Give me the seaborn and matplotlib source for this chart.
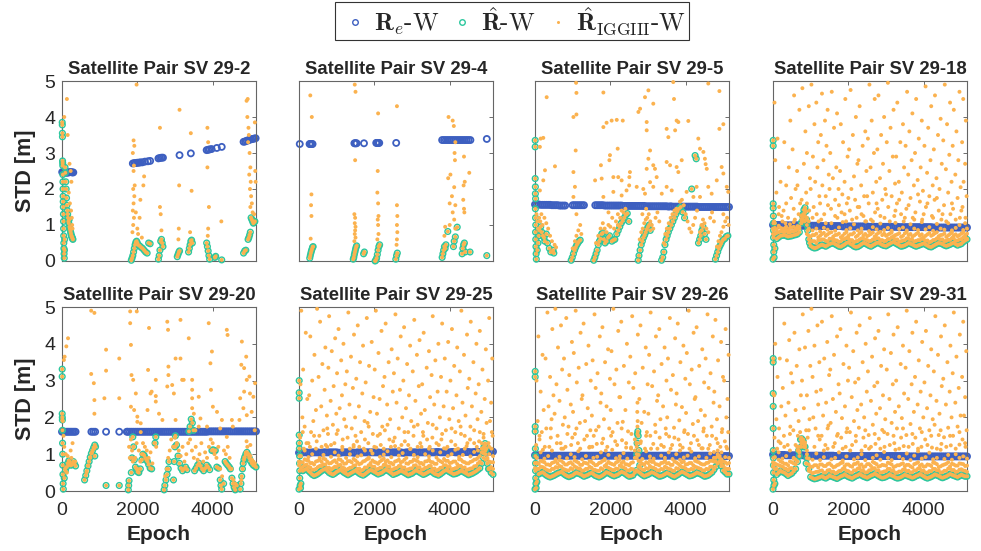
import matplotlib
matplotlib.use("Agg")
import matplotlib.pyplot as plt
from matplotlib.lines import Line2D
import seaborn as sns
import pandas as pd

# ---- shared epoch grids (dense panels are read every 100 epochs, plus the mid points) ----
EPOCHS_100 = [0, 100, 200, 300, 400, 500, 600, 700, 800, 900,
              1000, 1100, 1200, 1300, 1400, 1500, 1600, 1700, 1800, 1900,
              2000, 2100, 2200, 2300, 2400, 2500, 2600, 2700, 2800, 2900,
              3000, 3100, 3200, 3300, 3400, 3500, 3600, 3700, 3800, 3900,
              4000, 4100, 4200, 4300, 4400, 4500, 4600, 4700, 4800, 4900,
              5000, 5100]
EPOCHS_MID = [50, 150, 250, 350, 450, 550, 650, 750, 850, 950,
              1050, 1150, 1250, 1350, 1450, 1550, 1650, 1750, 1850, 1950,
              2050, 2150, 2250, 2350, 2450, 2550, 2650, 2750, 2850, 2950,
              3050, 3150, 3250, 3350, 3450, 3550, 3650, 3750, 3850, 3950,
              4050, 4150, 4250, 4350, 4450, 4550, 4650, 4750, 4850, 4950,
              5050, 5150]

TITLES = ["Satellite Pair SV 29-2", "Satellite Pair SV 29-4",
          "Satellite Pair SV 29-5", "Satellite Pair SV 29-18",
          "Satellite Pair SV 29-20", "Satellite Pair SV 29-25",
          "Satellite Pair SV 29-26", "Satellite Pair SV 29-31"]
LEGEND_LABELS = [r"$\mathbf{R}_e$-W", r"$\hat{\mathbf{R}}$-W",
                 r"$\hat{\mathbf{R}}_{\mathrm{IGGIII}}$-W"]
X_TICKS = [0, 2000, 4000]
Y_TICKS = [0, 1, 2, 3, 4, 5]

# ---- SV 29-2 ----
A_BLUE = [(5, 2.47), (30, 2.46), (60, 2.46), (90, 2.46), (120, 2.45), (150, 2.46),
          (180, 2.46), (210, 2.47), (240, 2.47), (270, 2.46), (300, 2.46),
          (1880, 2.71), (1920, 2.72), (1960, 2.72), (2000, 2.73), (2040, 2.73),
          (2080, 2.74), (2130, 2.74), (2200, 2.76), (2280, 2.77), (2340, 2.78),
          (2560, 2.85), (2600, 2.86), (2640, 2.87), (2680, 2.87), (3120, 2.94),
          (3420, 2.99), (3840, 3.08), (3880, 3.09), (3920, 3.10), (3970, 3.11),
          (4110, 3.14), (4240, 3.17), (4820, 3.31), (4860, 3.32), (4900, 3.34),
          (4940, 3.35), (4980, 3.37), (5020, 3.38), (5060, 3.39), (5100, 3.40),
          (5140, 3.41)]
A_TEAL = [(5, 3.85), (8, 3.78), (10, 3.55), (12, 3.45), (15, 2.78), (18, 2.72),
          (20, 2.65), (22, 2.4), (25, 2.2), (28, 2.0), (30, 1.8), (32, 1.65),
          (35, 1.5), (38, 1.3), (40, 1.1), (42, 0.9), (45, 0.7), (48, 0.5),
          (50, 0.35), (55, 0.2), (60, 0.08), (65, 0.3), (70, 0.6), (80, 2.6),
          (90, 2.45), (100, 2.2), (110, 2.0), (120, 1.75), (130, 1.55), (140, 1.4),
          (150, 1.3), (160, 1.2), (170, 1.1), (180, 1.05), (190, 1.15), (200, 0.95),
          (210, 0.9), (220, 0.85), (230, 0.8), (240, 0.75), (250, 0.7), (260, 0.68),
          (270, 0.65), (280, 0.62), (290, 0.6),
          (1840, 0.02), (1860, 0.08), (1880, 0.15), (1900, 0.25), (1920, 0.35),
          (1940, 0.45), (1960, 0.52), (1980, 0.55), (2000, 0.5), (2020, 0.45),
          (2060, 0.42), (2100, 0.38), (2140, 0.35), (2180, 0.3), (2220, 0.25),
          (2260, 0.22), (2300, 0.5), (2340, 0.48),
          (2560, 0.05), (2580, 0.15), (2600, 0.3), (2620, 0.55), (2640, 0.6),
          (2660, 0.5), (2680, 0.4),
          (3060, 0.12), (3080, 0.18), (3100, 0.24), (3120, 0.28),
          (3360, 0.25), (3380, 0.35), (3400, 0.45), (3420, 0.55), (3440, 0.58),
          (3460, 0.5),
          (3840, 0.5), (3860, 0.4), (3880, 0.28), (3900, 0.15), (3920, 0.05),
          (4060, 0.1), (4080, 0.13), (4240, 0.03),
          (4820, 0.22), (4850, 0.28), (4880, 0.3),
          (4940, 0.6), (4960, 0.65), (4980, 0.72), (5000, 0.8), (5020, 1.2),
          (5040, 1.15), (5060, 1.1), (5080, 1.05), (5100, 1.08), (5120, 1.1)]
A_ORANGE = [(60, 4.0), (130, 4.5), (150, 3.5), (200, 2.7), (230, 2.5), (250, 2.2),
            (180, 1.9), (210, 1.6), (240, 1.4), (260, 1.2), (270, 1.0), (280, 0.9),
            (1980, 4.9), (1900, 3.35), (1920, 3.2), (1880, 3.0), (1910, 2.65),
            (1900, 2.5), (1930, 2.1), (1890, 2.0), (1920, 1.8), (1900, 1.6),
            (1880, 1.4), (1910, 1.2), (1890, 1.0), (1870, 0.8), (1960, 1.35),
            (2000, 0.9), (2180, 2.35), (2160, 2.1), (2080, 1.7), (2060, 1.2),
            (2020, 0.75), (2120, 0.65),
            (2600, 3.7), (2600, 1.5), (2620, 1.3), (2640, 0.85),
            (3120, 4.2), (3110, 2.1), (3100, 0.9), (3090, 0.6),
            (3420, 3.55), (3440, 1.95), (3400, 0.8),
            (3860, 3.7), (3880, 3.3), (3860, 2.6), (3900, 1.5), (3880, 0.9), (3870, 0.7),
            (4230, 1.1),
            (4900, 4.45), (4930, 4.5), (4920, 4.0), (4950, 3.7), (4960, 3.5),
            (4940, 3.3), (4980, 3.0), (5000, 2.6), (4970, 2.4), (5010, 2.2),
            (4990, 2.0), (5020, 1.8), (5040, 1.6), (5000, 1.5), (5060, 1.35),
            (5120, 3.85), (5130, 2.5), (5140, 2.2), (5100, 1.3)]

# ---- SV 29-4 ----
B_BLUE = [(20, 3.25), (280, 3.25), (300, 3.25), (320, 3.25), (340, 3.25), (360, 3.25),
          (1470, 3.27), (1490, 3.27), (1510, 3.27), (1530, 3.27), (1725, 3.27),
          (2050, 3.28), (2070, 3.28), (2090, 3.28), (2110, 3.28), (2130, 3.28),
          (2580, 3.28), (3800, 3.36), (3850, 3.36), (3900, 3.36), (3950, 3.36),
          (4000, 3.36), (4050, 3.36), (4100, 3.36), (4150, 3.36), (4200, 3.36),
          (4250, 3.36), (4300, 3.36), (4350, 3.36), (4400, 3.36), (4450, 3.36),
          (4500, 3.36), (4550, 3.36), (4985, 3.39)]
B_TEAL = [(285, 0.08), (300, 0.15), (315, 0.22), (330, 0.28), (345, 0.33), (360, 0.38),
          (375, 0.4), (1440, 0.05), (1455, 0.1), (1470, 0.18), (1485, 0.25),
          (1500, 0.32), (1515, 0.38), (1530, 0.42), (1715, 0.2), (1735, 0.25),
          (2020, 0.0), (2040, 0.02), (2060, 0.08), (2080, 0.18), (2100, 0.3),
          (2120, 0.4), (2140, 0.45), (2570, 0.05), (2590, 0.15), (2610, 0.22),
          (3800, 0.1), (3820, 0.2), (3840, 0.3), (3860, 0.4), (3880, 0.35),
          (3900, 0.45), (3950, 0.82), (4100, 0.4), (4120, 0.55), (4150, 0.67),
          (4200, 0.94), (4330, 0.2), (4350, 0.35), (4370, 0.45), (4390, 0.5),
          (4410, 0.25), (4540, 0.25), (4985, 0.15)]
B_ORANGE = [(300, 4.6), (340, 4.0), (330, 1.85), (320, 1.55), (330, 1.25), (310, 0.62),
            (1480, 4.9), (1500, 4.7), (1490, 2.8), (1470, 1.3), (1490, 1.2),
            (1480, 1.05), (1500, 0.95), (1490, 0.85), (1480, 0.75), (1500, 0.65),
            (1470, 0.55), (2100, 4.1), (2090, 2.5), (2080, 1.9), (2100, 1.6),
            (2110, 1.25), (2090, 1.15), (2100, 1.0), (2110, 0.75), (2080, 0.6),
            (2600, 4.3), (2600, 1.55), (2610, 1.25), (2600, 1.0), (2610, 0.8),
            (2600, 0.6), (2590, 0.45), (3970, 4.0), (4080, 3.9), (4110, 3.75),
            (4150, 3.3), (4130, 3.0), (4140, 2.8), (3960, 2.3), (4020, 2.4),
            (4120, 2.05), (4060, 1.8), (4000, 1.6), (4150, 1.55), (4080, 1.35),
            (4120, 1.15), (4000, 1.0), (4150, 0.9), (3880, 0.95), (3860, 0.7),
            (4380, 2.9), (4400, 2.2), (4370, 2.1), (4390, 1.35), (4380, 1.45),
            (4360, 1.7), (4520, 2.45)]

# ---- SV 29-5 ----
C_BLUE_X = [0, 100, 200, 300, 400, 500, 600, 700, 800,
            1000, 1100, 1200, 1300,
            1600, 1700, 1800, 1900, 2000, 2100, 2200, 2300, 2400, 2500,
            2600, 2700, 2800, 2900, 3000, 3100, 3200, 3300, 3400, 3500,
            3600, 3700, 3800, 3900, 4000, 4100, 4200, 4300, 4400, 4500,
            4600, 4700, 4800, 4900, 5000, 5100]
C_BLUE_Y = [1.57, 1.57, 1.56, 1.56, 1.56, 1.55, 1.55, 1.54, 1.54,
            1.55, 1.55, 1.55, 1.55,
            1.55, 1.55, 1.55, 1.54, 1.54, 1.54, 1.54, 1.54, 1.53, 1.53,
            1.53, 1.53, 1.53, 1.53, 1.52, 1.52, 1.52, 1.52, 1.52, 1.52,
            1.52, 1.51, 1.51, 1.51, 1.51, 1.51, 1.51, 1.51, 1.50, 1.50,
            1.50, 1.50, 1.50, 1.50, 1.50, 1.50]
C_BLUE2_X = [50, 150, 250, 350, 450, 550, 650, 750,
             1050, 1150, 1250,
             1650, 1750, 1850, 1950, 2050, 2150, 2250, 2350, 2450, 2550,
             2650, 2750, 2850, 2950, 3050, 3150, 3250, 3350, 3450, 3550,
             3650, 3750, 3850, 3950, 4050, 4150, 4250, 4350, 4450, 4550,
             4650, 4750, 4850, 4950, 5050, 5150]
C_BLUE2_Y = [1.57, 1.56, 1.56, 1.56, 1.55, 1.55, 1.54, 1.54,
             1.55, 1.55, 1.55,
             1.55, 1.55, 1.54, 1.54, 1.54, 1.54, 1.54, 1.53, 1.53, 1.53,
             1.53, 1.53, 1.53, 1.52, 1.52, 1.52, 1.52, 1.52, 1.52, 1.51,
             1.51, 1.51, 1.51, 1.51, 1.51, 1.51, 1.51, 1.50, 1.50, 1.50,
             1.50, 1.50, 1.50, 1.50, 1.50, 1.50]
C_TEAL = [(5, 3.35), (5, 3.17), (5, 2.29), (10, 2.06), (10, 1.87), (15, 1.73),
          (10, 1.45), (15, 1.2), (20, 1.0), (15, 0.8), (20, 0.6), (25, 0.4),
          (30, 0.2), (35, 0.05), (60, 0.3), (80, 0.5), (100, 0.7), (120, 0.85),
          (150, 0.95), (180, 0.8), (210, 0.7), (240, 0.65), (260, 0.55), (300, 0.75),
          (330, 0.5), (380, 0.35), (420, 0.25), (480, 0.3), (500, 0.22),
          (960, 0.02), (990, 0.1), (1020, 0.2), (1050, 0.3), (1080, 0.38),
          (1110, 0.45), (1140, 0.5), (1170, 0.55), (1200, 0.58),
          (1560, 0.02), (1590, 0.1), (1620, 0.2), (1650, 0.3), (1680, 0.45),
          (1710, 0.55), (1740, 0.62), (1770, 0.75), (1800, 0.78), (1830, 0.6),
          (1860, 0.5), (1900, 0.55), (1940, 0.65), (1980, 0.7),
          (2040, 0.55), (2080, 0.58), (2120, 0.6), (2170, 0.75), (2210, 0.85),
          (2250, 0.95), (2290, 1.05), (2330, 1.12), (2370, 1.2), (2410, 1.28),
          (2450, 1.32), (2490, 1.1),
          (2740, 0.02), (2760, 0.15), (2790, 0.3), (2820, 0.45), (2850, 0.55),
          (2880, 0.65), (2910, 0.72), (2940, 0.8), (2970, 0.88), (3000, 0.95),
          (3030, 1.0), (3060, 0.85),
          (3360, 0.02), (3390, 0.1), (3420, 0.25), (3450, 0.45), (3480, 0.6),
          (3510, 0.7), (3540, 0.8), (3580, 0.9), (3620, 1.0), (3660, 1.1),
          (3700, 1.2), (3740, 1.3), (3780, 1.38), (3820, 1.45), (3870, 1.5),
          (3920, 1.36), (3970, 1.2),
          (4160, 2.0), (4250, 2.93), (4280, 2.84),
          (4340, 0.5), (4370, 0.6), (4400, 0.7), (4430, 0.85), (4460, 0.95),
          (4500, 0.75), (4540, 0.6),
          (4790, 0.05), (4820, 0.15), (4850, 0.25), (4880, 0.35), (4910, 0.42),
          (4940, 0.48), (4970, 0.55), (5000, 0.6), (5040, 0.62), (5080, 0.68),
          (5120, 0.7)]
C_ORANGE = [(310, 4.55), (1090, 4.95), (1100, 4.67), (1020, 4.0), (1100, 4.07),
            (1080, 3.07), (1815, 4.68), (2035, 3.9), (2170, 3.92), (2330, 3.9),
            (1815, 3.72), (1900, 3.84), (2195, 3.12), (3010, 4.74), (2920, 4.55),
            (2790, 4.23), (2745, 4.14), (3140, 4.37), (2965, 3.86), (2965, 3.63),
            (3670, 4.97), (3690, 4.5), (3540, 3.44), (3495, 3.67), (3760, 3.9),
            (3720, 3.63), (3805, 3.86), (4070, 3.89), (4600, 4.93), (4895, 4.72),
            (4895, 3.67), (5000, 3.8), (220, 3.42), (150, 3.4), (130, 3.17),
            (3230, 2.33), (3055, 3.07), (3010, 2.84), (3140, 2.66), (3185, 2.56),
            (2965, 2.56), (1990, 2.94), (1975, 2.8), (2080, 2.33), (2210, 2.33),
            (2300, 2.24), (2520, 2.47), (2505, 2.33), (1750, 2.66), (1770, 2.29),
            (1595, 2.24), (3495, 2.75), (3585, 2.66), (3760, 2.61), (3805, 2.47),
            (3895, 2.8), (4335, 3.4), (4380, 3.12), (4470, 3.03), (4510, 2.84),
            (4560, 2.56), (4530, 2.69), (4955, 2.61), (5000, 2.43), (5090, 2.06),
            (5130, 1.92), (265, 2.52), (530, 2.63), (220, 2.24), (130, 1.96),
            (1020, 2.47), (1060, 2.06), (1020, 1.78), (2080, 1.92), (2430, 1.96),
            (2500, 2.1), (2700, 2.06), (2875, 2.0), (2920, 1.87), (3055, 2.19),
            (3140, 2.06), (3365, 1.87), (3495, 2.06), (3630, 1.96), (4025, 1.92),
            (4205, 1.78), (4290, 2.06), (4380, 1.78), (4600, 2.06), (4690, 1.87),
            (4825, 2.24), (1815, 1.78), (2300, 1.82),
            (40, 1.3), (60, 1.1), (80, 0.9), (110, 1.2), (140, 1.1), (170, 1.3),
            (200, 1.0), (250, 1.2), (300, 1.05), (350, 0.9), (400, 0.7), (450, 0.55),
            (520, 0.45), (560, 0.38), (1000, 0.35), (1060, 0.55), (1100, 0.7),
            (1150, 0.85), (1200, 1.0), (1230, 0.75), (1100, 1.3), (1620, 0.5),
            (1680, 0.7), (1740, 0.9), (1800, 1.05), (1850, 0.9), (1900, 0.8),
            (1950, 1.0), (2000, 0.95), (2050, 1.2), (2100, 0.9), (2150, 1.1),
            (2200, 1.3), (2260, 1.2), (2300, 1.4), (2350, 1.35), (2400, 1.45),
            (2200, 1.0), (1950, 1.35), (2780, 0.6), (2820, 0.8), (2860, 0.9),
            (2900, 1.05), (2940, 1.15), (2980, 1.2), (3020, 1.3), (3060, 1.1),
            (3100, 1.0), (3140, 0.9), (3200, 1.2), (3250, 1.35), (3300, 1.1),
            (2850, 1.3), (2950, 1.45), (3420, 0.5), (3460, 0.75), (3500, 0.9),
            (3550, 1.05), (3600, 1.2), (3650, 1.3), (3700, 1.4), (3750, 1.45),
            (3850, 1.65), (3900, 1.7), (3950, 1.55), (4000, 1.3), (4050, 1.1),
            (4100, 0.9), (4150, 0.8), (4200, 1.0), (4250, 1.2), (4300, 1.4),
            (4380, 0.8), (4420, 1.0), (4460, 1.15), (4500, 1.05), (4550, 0.9),
            (4600, 0.8), (4650, 1.2), (4700, 1.35), (4750, 1.1), (4830, 0.4),
            (4870, 0.55), (4910, 0.7), (4950, 0.8), (5000, 0.95), (5050, 1.1),
            (5100, 1.2), (5140, 1.0), (5000, 1.3)]

# ---- SV 29-18 ----
D_BLUE = [1.00, 1.00, 1.00, 0.99, 0.99, 0.99, 0.99, 0.99, 0.98, 0.98,
          0.98, 0.98, 0.98, 0.97, 0.97, 0.97, 0.97, 0.97, 0.97, 0.96,
          0.96, 0.96, 0.96, 0.96, 0.96, 0.96, 0.95, 0.95, 0.95, 0.95,
          0.95, 0.95, 0.95, 0.95, 0.94, 0.94, 0.94, 0.94, 0.94, 0.94,
          0.94, 0.94, 0.94, 0.93, 0.93, 0.93, 0.93, 0.93, 0.93, 0.93,
          0.93, 0.93]
D_BLUE_MID = [1.00, 1.00, 0.99, 0.99, 0.99, 0.99, 0.99, 0.98, 0.98, 0.98,
              0.98, 0.98, 0.97, 0.97, 0.97, 0.97, 0.97, 0.97, 0.96, 0.96,
              0.96, 0.96, 0.96, 0.96, 0.96, 0.95, 0.95, 0.95, 0.95, 0.95,
              0.95, 0.95, 0.95, 0.94, 0.94, 0.94, 0.94, 0.94, 0.94, 0.94,
              0.94, 0.94, 0.93, 0.93, 0.93, 0.93, 0.93, 0.93, 0.93, 0.93,
              0.93, 0.93]
D_TEAL = [0.05, 0.62, 0.70, 0.72, 0.68, 0.70, 0.73, 0.80, 1.30, 1.00,
          0.42, 0.36, 0.40, 0.45, 0.41, 0.47, 0.50, 0.44, 0.40, 0.46,
          0.52, 0.45, 0.39, 0.43, 0.50, 0.46, 0.41, 0.47, 0.51, 0.45,
          0.42, 0.48, 0.53, 0.47, 0.41, 0.44, 0.50, 0.46, 0.41, 0.45,
          0.49, 0.43, 0.39, 0.45, 0.50, 0.47, 0.42, 0.46, 0.51, 0.44,
          0.48, 0.57]
D_TEAL_MID = [0.35, 0.66, 0.71, 0.70, 0.69, 0.72, 0.75, 1.05, 1.48, 0.60,
              0.38, 0.37, 0.43, 0.43, 0.44, 0.49, 0.47, 0.41, 0.43, 0.50,
              0.48, 0.41, 0.40, 0.47, 0.49, 0.43, 0.44, 0.50, 0.48, 0.43,
              0.45, 0.51, 0.50, 0.44, 0.42, 0.47, 0.48, 0.43, 0.43, 0.47,
              0.46, 0.40, 0.42, 0.48, 0.49, 0.44, 0.44, 0.49, 0.47, 0.46,
              0.53, 0.60]
D_TEAL_EXTRA = [(5, 3.35), (5, 3.2), (5, 1.59), (5, 1.47), (10, 1.25), (10, 1.05),
                (15, 0.85), (15, 0.65), (20, 0.45), (20, 0.25), (30, 0.1),
                (770, 1.1), (790, 1.25), (820, 1.42), (870, 1.38), (890, 1.15),
                (920, 0.85), (970, 0.5)]
D_BAND_1 = [0.75, 0.80, 0.82, 0.85, 0.80, 0.83, 0.88, 1.05, 1.35, 0.70,
            0.55, 0.50, 0.58, 0.60, 0.55, 0.62, 0.58, 0.53, 0.60, 0.64,
            0.58, 0.52, 0.56, 0.63, 0.60, 0.55, 0.60, 0.64, 0.58, 0.55,
            0.61, 0.66, 0.60, 0.54, 0.57, 0.63, 0.59, 0.54, 0.58, 0.62,
            0.56, 0.52, 0.58, 0.63, 0.60, 0.55, 0.59, 0.64, 0.57, 0.60,
            0.66, 0.62]
D_BAND_2 = [0.90, 0.88, 0.92, 0.90, 0.86, 0.93, 0.90, 0.95, 1.15, 1.20,
            0.68, 0.72, 0.66, 0.75, 0.70, 0.78, 0.68, 0.73, 0.66, 0.76,
            0.70, 0.74, 0.67, 0.77, 0.71, 0.69, 0.75, 0.68, 0.78, 0.72,
            0.70, 0.76, 0.69, 0.74, 0.67, 0.77, 0.72, 0.68, 0.75, 0.70,
            0.66, 0.74, 0.70, 0.77, 0.69, 0.73, 0.67, 0.75, 0.71, 0.69,
            0.76, 0.72]
D_BAND_3 = [1.05, 0.98, 1.10, 0.95, 1.02, 1.08, 0.97, 1.25, 1.45, 1.10,
            0.85, 0.90, 0.82, 0.92, 0.87, 1.05, 0.84, 0.93, 1.08, 0.86,
            0.91, 1.02, 0.85, 0.90, 1.10, 0.83, 0.94, 0.88, 1.04, 0.86,
            0.92, 0.84, 1.06, 0.89, 0.93, 0.85, 1.02, 0.90, 0.86, 1.08,
            0.88, 0.94, 0.84, 1.03, 0.90, 0.87, 1.05, 0.85, 0.92, 1.00,
            0.86, 0.90]
D_BAND_4 = [0.75, 0.78, 0.82, 0.80, 0.79, 0.82, 0.84, 0.90, 1.22, 0.75,
            0.56, 0.55, 0.58, 0.60, 0.56, 0.62, 0.60, 0.57, 0.55, 0.61,
            0.63, 0.58, 0.55, 0.60, 0.62, 0.58, 0.56, 0.60, 0.63, 0.58,
            0.56, 0.61, 0.64, 0.60, 0.55, 0.58, 0.62, 0.59, 0.56, 0.58,
            0.61, 0.57, 0.54, 0.59, 0.62, 0.60, 0.56, 0.59, 0.63, 0.57,
            0.61, 0.66]
D_BAND_5 = [0.92, 0.95, 0.90, 0.94, 0.92, 0.95, 0.93, 1.15, 1.25, 0.90,
            0.72, 0.76, 0.70, 0.78, 0.74, 0.80, 0.72, 0.76, 0.70, 0.80,
            0.74, 0.78, 0.71, 0.80, 0.75, 0.72, 0.79, 0.74, 0.81, 0.76,
            0.73, 0.79, 0.72, 0.77, 0.70, 0.80, 0.75, 0.71, 0.78, 0.74,
            0.70, 0.78, 0.73, 0.80, 0.72, 0.76, 0.71, 0.79, 0.74, 0.72,
            0.80, 0.76]
D_SCATTER = [(40, 4.4), (120, 3.4), (60, 2.8), (200, 2.2), (90, 1.9), (160, 1.5), (230, 1.25), (30, 1.1),
             (300, 3.3), (420, 2.6), (350, 2.1), (480, 1.75), (280, 1.4), (400, 1.2), (460, 3.9), (330, 1.05),
             (560, 4.6), (700, 4.2), (520, 3.1), (640, 2.5), (600, 2.0), (720, 1.6), (680, 1.3), (580, 1.15),
             (780, 4.8), (950, 4.3), (860, 3.6), (900, 3.0), (820, 2.7), (980, 2.3), (880, 1.9), (760, 1.7), (960, 1.4), (840, 1.1),
             (1020, 4.9), (1150, 4.4), (1100, 3.8), (1200, 3.3), (1060, 2.9), (1180, 2.6), (1120, 2.2), (1000, 2.0), (1230, 1.8), (1080, 1.5), (1160, 1.3), (1210, 1.1),
             (1300, 4.65), (1450, 4.2), (1380, 3.9), (1270, 3.5), (1420, 3.2), (1340, 2.8), (1480, 2.4), (1310, 2.1), (1400, 1.8), (1460, 1.55), (1360, 1.3), (1280, 1.15),
             (1560, 4.7), (1700, 4.1), (1620, 3.7), (1520, 3.0), (1680, 2.6), (1590, 2.3), (1740, 2.0), (1650, 1.7), (1540, 1.45), (1710, 1.2),
             (1800, 3.8), (1920, 4.5), (1860, 3.3), (1980, 2.9), (1780, 2.5), (1900, 2.2), (1840, 1.85), (1960, 1.6), (1820, 1.35), (1940, 1.1),
             (2060, 4.75), (2200, 4.0), (2120, 3.5), (2020, 3.1), (2240, 2.7), (2150, 2.35), (2080, 2.0), (2180, 1.7), (2040, 1.4), (2220, 1.2),
             (2300, 4.3), (2450, 3.6), (2380, 3.2), (2270, 2.8), (2480, 2.5), (2340, 2.1), (2420, 1.8), (2290, 1.5), (2400, 1.25), (2470, 1.1),
             (2560, 4.9), (2700, 4.5), (2620, 3.9), (2520, 3.4), (2680, 3.0), (2590, 2.6), (2740, 2.2), (2650, 1.9), (2540, 1.6), (2710, 1.35), (2600, 1.15),
             (2800, 4.6), (2950, 4.0), (2870, 3.5), (2770, 3.1), (2920, 2.7), (2840, 2.3), (2980, 2.0), (2900, 1.7), (2780, 1.45), (2960, 1.2),
             (3050, 4.95), (3200, 4.2), (3120, 3.7), (3020, 3.3), (3180, 2.9), (3090, 2.5), (3240, 2.15), (3150, 1.8), (3060, 1.5), (3220, 1.25),
             (3300, 4.4), (3450, 3.8), (3380, 3.3), (3270, 2.9), (3480, 2.6), (3340, 2.2), (3420, 1.9), (3290, 1.6), (3400, 1.3), (3470, 1.1),
             (3560, 4.7), (3700, 4.1), (3620, 3.6), (3520, 3.2), (3680, 2.8), (3590, 2.4), (3740, 2.1), (3650, 1.75), (3540, 1.45), (3710, 1.2),
             (3800, 4.5), (3950, 3.9), (3870, 3.4), (3770, 3.0), (3920, 2.6), (3840, 2.25), (3980, 1.95), (3900, 1.65), (3780, 1.35), (3960, 1.15),
             (4050, 4.85), (4200, 4.3), (4120, 3.7), (4020, 3.2), (4180, 2.8), (4090, 2.45), (4240, 2.1), (4150, 1.8), (4060, 1.5), (4220, 1.25),
             (4300, 4.6), (4450, 3.95), (4380, 3.5), (4270, 3.1), (4480, 2.7), (4340, 2.3), (4420, 2.0), (4290, 1.7), (4400, 1.4), (4470, 1.15),
             (4560, 4.9), (4700, 4.4), (4620, 3.8), (4520, 3.35), (4680, 2.95), (4590, 2.55), (4740, 2.2), (4650, 1.9), (4540, 1.55), (4710, 1.3),
             (4800, 4.2), (4950, 4.7), (4870, 3.6), (4770, 3.2), (4920, 2.8), (4840, 2.4), (4980, 2.05), (4900, 1.75), (4780, 1.45), (4960, 1.2),
             (5050, 4.5), (5120, 3.9), (5020, 3.3), (5100, 2.7), (5060, 2.2), (5140, 1.8), (5030, 1.5), (5110, 1.2)]
D_SCATTER_LOW = [(150, 1.3), (350, 1.6), (550, 1.45), (650, 2.1), (900, 1.6), (1050, 1.2),
                 (1250, 1.6), (1400, 1.05), (1500, 2.0), (1650, 1.25), (1750, 1.55), (1900, 1.3),
                 (2000, 1.75), (2100, 1.15), (2250, 1.5), (2350, 1.3), (2500, 1.8), (2650, 1.1),
                 (2750, 1.6), (2850, 1.25), (3000, 1.85), (3100, 1.1), (3250, 1.4), (3350, 1.7),
                 (3500, 1.2), (3600, 1.55), (3750, 1.15), (3850, 1.85), (4000, 1.3), (4100, 1.6),
                 (4250, 1.2), (4350, 1.75), (4500, 1.3), (4600, 1.1), (4750, 1.6), (4850, 1.15),
                 (5000, 1.4), (5100, 1.05)]

# ---- SV 29-20 ----
E_BLUE_X = [0, 40, 80, 120, 160, 200, 240, 280, 320, 360, 780, 830, 880, 1170, 1520,
            1720, 1800, 1900, 2000, 2100, 2200, 2300, 2400, 2500, 2600, 2700, 2800,
            2900, 3000, 3100, 3200, 3300, 3400, 3500, 3600, 3700, 3800, 3900, 4000,
            4100, 4200, 4300, 4400, 4500, 4600, 4700, 4800, 4900, 5000, 5100, 5150]
E_BLUE_Y = [1.61, 1.61, 1.61, 1.61, 1.61, 1.61, 1.61, 1.61, 1.61, 1.61, 1.61, 1.61, 1.61, 1.61, 1.61,
            1.61, 1.61, 1.61, 1.61, 1.61, 1.61, 1.61, 1.61, 1.61, 1.61, 1.61, 1.61,
            1.61, 1.61, 1.61, 1.61, 1.61, 1.61, 1.61, 1.61, 1.61, 1.61, 1.62, 1.62,
            1.62, 1.62, 1.62, 1.62, 1.62, 1.62, 1.62, 1.62, 1.62, 1.62, 1.62, 1.62]
E_BLUE2_X = [1750, 1850, 1950, 2050, 2150, 2250, 2350, 2450, 2550, 2650,
             2750, 2850, 2950, 3050, 3150, 3250, 3350, 3450, 3550, 3650,
             3750, 3850, 3950, 4050, 4150, 4250, 4350, 4450, 4550, 4650,
             4750, 4850, 4950, 5050]
E_BLUE2_Y = [1.61, 1.61, 1.61, 1.61, 1.61, 1.61, 1.61, 1.61, 1.61, 1.61,
             1.61, 1.61, 1.61, 1.61, 1.61, 1.61, 1.61, 1.61, 1.61, 1.61,
             1.61, 1.61, 1.62, 1.62, 1.62, 1.62, 1.62, 1.62, 1.62, 1.62,
             1.62, 1.62, 1.62, 1.62]
E_TEAL = [(5, 3.31), (5, 3.11), (5, 2.1), (8, 2.0), (10, 1.93), (12, 1.65), (15, 1.3),
          (18, 1.0), (20, 0.7), (25, 0.45), (30, 0.2), (35, 0.05), (60, 0.35), (90, 0.55),
          (120, 0.65), (150, 0.75), (180, 0.82), (210, 0.78), (240, 0.7), (270, 0.72),
          (300, 0.8), (330, 0.74), (360, 0.68),
          (600, 0.3), (630, 0.42), (660, 0.55), (690, 0.68), (720, 0.8), (750, 0.92),
          (780, 1.02), (810, 1.1), (840, 1.18), (870, 1.25), (890, 1.2), (870, 0.95),
          (1170, 0.15), (1520, 0.15), (1760, 0.03), (1770, 0.15), (1780, 0.28),
          (1840, 0.5), (1860, 0.9), (1880, 1.47), (1900, 1.2), (1920, 0.85), (1950, 0.65),
          (1980, 0.6), (2010, 0.52), (2040, 0.5), (2080, 0.6), (2120, 0.85), (2150, 1.0),
          (2180, 0.97), (2210, 0.9), (2240, 0.85), (2270, 0.8), (2300, 0.72), (2340, 0.62),
          (2380, 0.6), (2470, 1.3), (2490, 1.47),
          (2710, 0.03), (2730, 0.15), (2760, 0.3), (2790, 0.45), (2820, 0.6), (2840, 0.8),
          (2960, 0.3), (2980, 0.8), (3000, 1.2), (3010, 1.5), (3040, 1.25), (3080, 0.95),
          (3120, 0.75), (3160, 0.62), (3200, 0.55), (3240, 0.6), (3280, 0.65), (3320, 0.58),
          (3370, 1.62), (3400, 1.75), (3430, 1.95), (3460, 1.85), (3490, 1.65),
          (3520, 0.55), (3560, 0.62), (3600, 0.7), (3640, 0.75), (3680, 0.68), (3720, 0.6),
          (3760, 0.55), (3800, 0.62), (3840, 0.7), (3880, 0.65), (3920, 0.58),
          (3980, 1.1), (4010, 1.12), (4040, 1.08), (4070, 1.1),
          (4110, 0.65), (4150, 0.62), (4200, 0.3), (4220, 0.15), (4240, 0.05), (4290, 0.2),
          (4330, 0.8), (4360, 0.75), (4400, 0.7), (4440, 0.65), (4470, 0.6),
          (4510, 0.35), (4540, 0.2), (4570, 0.1), (4600, 0.03), (4640, 0.15),
          (4730, 0.05), (4750, 0.2), (4770, 0.4), (4790, 0.6), (4810, 0.75), (4830, 0.85),
          (4850, 0.92), (4880, 1.0), (4910, 1.05), (4940, 0.98), (4970, 0.9), (5000, 0.82),
          (5040, 0.75), (5080, 0.7), (5120, 0.68), (5150, 0.65)]
E_ORANGE = [(775, 4.9), (860, 4.84), (160, 4.15), (70, 3.65), (115, 3.93), (50, 3.56),
            (775, 3.18), (845, 2.93), (860, 2.47), (860, 2.1), (1170, 3.84), (1170, 3.27),
            (1125, 2.52), (1520, 3.6), (1520, 2.52), (1810, 4.88), (1985, 4.88),
            (1810, 4.56), (1830, 3.97), (1845, 3.15), (1890, 3.02), (1830, 2.29),
            (1960, 2.65), (1915, 2.2), (2000, 2.02), (2000, 1.88), (2090, 1.84),
            (2310, 4.43), (2285, 3.29), (2380, 2.7), (2350, 2.65), (2490, 2.43),
            (2270, 2.2), (2490, 3.02), (2490, 2.58), (2795, 4.6), (2815, 4.38),
            (2825, 3.38), (2825, 3.15), (2795, 2.84), (2925, 2.88), (2970, 2.65),
            (3015, 1.93), (3145, 4.65), (3145, 3.6), (3015, 3.6), (3190, 3.02),
            (3230, 3.02), (3365, 4.15), (3455, 3.02), (3455, 2.75), (3455, 2.52),
            (3455, 2.25), (3500, 2.1), (3630, 2.56), (3675, 1.97), (3895, 4.56),
            (3980, 3.79), (3940, 3.47), (3955, 2.75), (4200, 1.7), (4375, 4.38),
            (4395, 4.24), (4510, 1.93), (4535, 1.75), (4775, 4.06), (4760, 3.43),
            (4835, 3.34), (4835, 2.7), (4890, 3.65), (4975, 3.11), (4905, 3.02),
            (4990, 2.65), (4730, 2.52), (5080, 2.56), (5125, 2.93), (4815, 2.25),
            (4905, 2.06), (5035, 2.15), (4710, 1.93), (5115, 1.65), (4375, 1.47),
            (4005, 2.29), (4115, 2.15), (4245, 1.93), (3540, 1.65), (3630, 1.75),
            (3850, 1.75), (2665, 1.93), (2575, 2.1), (2090, 1.6),
            (20, 1.9), (40, 1.5), (60, 1.2), (100, 1.0), (150, 0.95), (200, 0.8),
            (250, 0.9), (300, 0.75), (350, 0.8), (80, 0.6), (130, 0.5), (180, 0.7),
            (230, 1.1), (280, 1.3), (650, 0.5), (700, 0.7), (750, 0.9), (800, 1.05),
            (850, 1.15), (1780, 1.2), (1800, 0.9), (1830, 1.4), (1860, 1.1), (1880, 0.8),
            (1900, 1.2), (1940, 0.9), (1980, 1.3), (2000, 0.6), (2040, 1.1), (2080, 0.8),
            (2120, 1.0), (2150, 1.3), (2200, 1.2), (2250, 1.1), (2300, 0.9), (2350, 1.05),
            (2400, 0.75), (2450, 1.3), (2500, 1.2), (2740, 0.4), (2780, 0.6), (2820, 0.9),
            (2860, 1.1), (2900, 1.4), (2950, 1.2), (3000, 1.45), (3050, 1.3), (3100, 1.1),
            (3150, 0.95), (3200, 1.2), (3250, 0.8), (3300, 1.0), (3350, 1.3), (3400, 1.4),
            (3450, 1.1), (3500, 0.9), (3550, 1.2), (3600, 0.85), (3650, 1.0), (3700, 1.3),
            (3750, 0.8), (3800, 1.05), (3850, 0.9), (3900, 1.2), (3950, 1.4), (4000, 1.3),
            (4050, 1.0), (4100, 0.9), (4150, 1.2), (4200, 0.6), (4250, 0.4), (4300, 1.1),
            (4350, 1.0), (4400, 1.2), (4450, 0.9), (4500, 0.6), (4550, 0.3), (4600, 0.2),
            (4760, 0.3), (4800, 0.6), (4840, 0.9), (4880, 1.05), (4920, 1.2), (4960, 1.0),
            (5000, 0.95), (5040, 0.85), (5080, 0.8), (5120, 0.75), (4900, 1.35), (5000, 1.25)]

# ---- SV 29-25 ----
F_BLUE = [1.04, 1.05, 1.05, 1.04, 1.05, 1.05, 1.04, 1.05, 1.05, 1.05,
          1.05, 1.04, 1.05, 1.05, 1.05, 1.04, 1.05, 1.05, 1.05, 1.05,
          1.05, 1.05, 1.04, 1.05, 1.05, 1.05, 1.05, 1.05, 1.04, 1.05,
          1.05, 1.05, 1.05, 1.05, 1.05, 1.05, 1.05, 1.06, 1.05, 1.05,
          1.05, 1.06, 1.05, 1.05, 1.06, 1.06, 1.05, 1.06, 1.06, 1.07,
          1.07, 1.07]
F_BLUE_MID = [1.05, 1.05, 1.04, 1.05, 1.05, 1.04, 1.05, 1.05, 1.05, 1.05,
              1.04, 1.05, 1.05, 1.05, 1.04, 1.05, 1.05, 1.05, 1.05, 1.05,
              1.05, 1.04, 1.05, 1.05, 1.05, 1.05, 1.05, 1.04, 1.05, 1.05,
              1.05, 1.05, 1.05, 1.05, 1.05, 1.05, 1.06, 1.05, 1.05, 1.05,
              1.06, 1.05, 1.05, 1.06, 1.06, 1.05, 1.06, 1.06, 1.07, 1.07,
              1.07, 1.07]
F_TEAL = [0.05, 0.55, 0.60, 0.50, 0.42, 0.47, 0.55, 0.60, 0.50, 0.45,
          0.52, 0.58, 0.50, 0.44, 0.50, 0.56, 0.48, 0.43, 0.50, 0.57,
          0.52, 0.46, 0.50, 0.58, 0.53, 0.45, 0.49, 0.55, 0.50, 0.44,
          0.48, 0.56, 0.51, 0.45, 0.50, 0.55, 0.47, 0.43, 0.50, 0.57,
          0.52, 0.46, 0.49, 0.55, 0.50, 0.44, 0.48, 0.54, 0.62, 0.90,
          0.75, 0.50]
F_TEAL_MID = [0.20, 0.58, 0.55, 0.45, 0.44, 0.51, 0.58, 0.55, 0.47, 0.48,
              0.55, 0.54, 0.47, 0.47, 0.53, 0.52, 0.45, 0.46, 0.54, 0.55,
              0.49, 0.48, 0.54, 0.56, 0.49, 0.47, 0.52, 0.53, 0.47, 0.46,
              0.52, 0.54, 0.48, 0.47, 0.53, 0.51, 0.45, 0.46, 0.54, 0.55,
              0.49, 0.47, 0.52, 0.53, 0.47, 0.46, 0.51, 0.58, 0.75, 1.10,
              0.60, 0.45]
F_TEAL_EXTRA = [(5, 3.0), (5, 2.67), (5, 2.52), (5, 1.52), (10, 1.3), (10, 1.15),
                (15, 0.95), (15, 0.75), (20, 0.55), (20, 0.35), (30, 0.15), (40, 0.08),
                (4880, 1.05), (4910, 1.2), (4940, 1.29), (4970, 1.15), (5030, 0.6)]
F_BAND_1 = [0.62, 0.70, 0.66, 0.58, 0.60, 0.68, 0.72, 0.63, 0.58, 0.66,
            0.70, 0.64, 0.57, 0.63, 0.69, 0.60, 0.56, 0.64, 0.70, 0.66,
            0.59, 0.63, 0.71, 0.66, 0.58, 0.62, 0.68, 0.63, 0.57, 0.61,
            0.69, 0.64, 0.58, 0.63, 0.68, 0.60, 0.56, 0.63, 0.70, 0.65,
            0.59, 0.62, 0.68, 0.63, 0.57, 0.61, 0.67, 0.75, 1.05, 0.85,
            0.62, 0.60]
F_BAND_2 = [0.80, 0.78, 0.84, 0.76, 0.72, 0.82, 0.79, 0.86, 0.75, 0.80,
            0.77, 0.85, 0.74, 0.81, 0.78, 0.83, 0.73, 0.80, 0.86, 0.76,
            0.79, 0.74, 0.84, 0.80, 0.77, 0.72, 0.82, 0.78, 0.85, 0.74,
            0.80, 0.83, 0.76, 0.72, 0.81, 0.79, 0.74, 0.84, 0.78, 0.82,
            0.76, 0.80, 0.73, 0.85, 0.78, 0.75, 0.81, 0.86, 0.95, 1.15,
            0.90, 0.78]
F_BAND_3 = [0.95, 1.10, 0.92, 1.00, 1.15, 0.90, 0.98, 1.20, 0.93, 1.05,
            0.96, 1.12, 0.90, 1.00, 1.25, 0.94, 0.97, 1.10, 0.91, 1.02,
            1.18, 0.93, 0.99, 1.08, 0.92, 1.22, 0.96, 1.03, 0.90, 1.14,
            0.98, 0.92, 1.20, 1.00, 0.94, 1.10, 0.91, 1.05, 1.16, 0.95,
            1.00, 1.12, 0.93, 0.98, 1.22, 0.94, 1.06, 1.10, 1.30, 1.25,
            1.00, 0.95]
F_BAND_4 = [0.70, 0.66, 0.72, 0.64, 0.58, 0.65, 0.68, 0.72, 0.63, 0.62,
            0.65, 0.71, 0.62, 0.60, 0.64, 0.70, 0.61, 0.58, 0.64, 0.70,
            0.66, 0.60, 0.64, 0.71, 0.66, 0.59, 0.63, 0.68, 0.64, 0.59,
            0.62, 0.70, 0.65, 0.59, 0.64, 0.68, 0.61, 0.58, 0.64, 0.70,
            0.66, 0.60, 0.63, 0.68, 0.64, 0.59, 0.62, 0.68, 0.80, 1.02,
            0.88, 0.65]
F_BAND_5 = [0.78, 0.86, 0.82, 0.76, 0.80, 0.85, 0.88, 0.80, 0.76, 0.83,
            0.86, 0.80, 0.75, 0.81, 0.87, 0.78, 0.75, 0.82, 0.88, 0.83,
            0.77, 0.80, 0.88, 0.83, 0.76, 0.80, 0.85, 0.80, 0.75, 0.79,
            0.86, 0.81, 0.76, 0.80, 0.85, 0.78, 0.74, 0.81, 0.87, 0.82,
            0.77, 0.80, 0.86, 0.80, 0.75, 0.79, 0.85, 0.90, 1.15, 1.00,
            0.80, 0.78]
F_SCATTER = [(60, 4.9), (180, 4.3), (110, 3.3), (40, 2.9), (220, 2.5), (90, 2.0), (150, 1.75), (30, 1.45), (200, 1.3), (130, 1.15),
             (480, 4.95), (300, 4.2), (410, 3.7), (350, 3.0), (270, 2.6), (450, 2.2), (380, 1.9), (320, 1.6), (470, 1.35), (290, 1.2),
             (560, 4.6), (700, 3.9), (620, 3.45), (520, 3.1), (680, 2.75), (590, 2.3), (740, 2.05), (650, 1.65), (540, 1.5), (710, 1.25),
             (800, 4.75), (960, 4.15), (870, 3.8), (780, 3.35), (920, 2.85), (840, 2.45), (990, 2.1), (900, 1.8), (770, 1.55), (940, 1.3),
             (1050, 4.4), (1180, 4.0), (1120, 3.55), (1010, 3.2), (1230, 2.9), (1140, 2.6), (1080, 2.25), (1200, 1.95), (1030, 1.65), (1160, 1.4),
             (1310, 4.85), (1460, 4.25), (1380, 3.65), (1270, 3.25), (1430, 2.8), (1340, 2.35), (1490, 2.0), (1400, 1.7), (1290, 1.45), (1450, 1.2),
             (1560, 4.5), (1700, 3.95), (1620, 3.5), (1520, 3.05), (1680, 2.65), (1590, 2.3), (1740, 1.9), (1650, 1.6), (1540, 1.35), (1720, 1.15),
             (1800, 4.7), (1930, 4.05), (1860, 3.4), (1770, 2.95), (1980, 2.55), (1890, 2.15), (1820, 1.85), (1960, 1.55), (1840, 1.3), (1910, 1.1),
             (2040, 4.9), (2190, 4.35), (2110, 3.75), (2010, 3.3), (2230, 2.85), (2140, 2.5), (2070, 2.1), (2210, 1.75), (2090, 1.5), (2170, 1.25),
             (2300, 4.55), (2460, 3.85), (2380, 3.5), (2270, 3.1), (2490, 2.7), (2340, 2.35), (2420, 1.95), (2280, 1.65), (2400, 1.4), (2440, 1.2),
             (2560, 4.8), (2700, 4.2), (2620, 3.6), (2520, 3.2), (2680, 2.75), (2590, 2.4), (2740, 2.0), (2650, 1.7), (2540, 1.45), (2720, 1.25),
             (2790, 4.45), (2950, 3.95), (2870, 3.45), (2770, 3.0), (2920, 2.6), (2840, 2.25), (2980, 1.9), (2900, 1.6), (2810, 1.35), (2960, 1.15),
             (3060, 4.65), (3200, 4.1), (3130, 3.7), (3020, 3.25), (3180, 2.85), (3090, 2.45), (3240, 2.1), (3150, 1.8), (3040, 1.5), (3220, 1.3),
             (3310, 4.3), (3450, 3.8), (3390, 3.35), (3270, 2.9), (3480, 2.55), (3340, 2.2), (3420, 1.85), (3290, 1.6), (3400, 1.4), (3470, 1.2),
             (3550, 4.75), (3700, 4.0), (3620, 3.55), (3520, 3.15), (3680, 2.7), (3590, 2.35), (3740, 2.0), (3650, 1.7), (3540, 1.45), (3710, 1.25),
             (3800, 4.55), (3960, 4.05), (3870, 3.6), (3770, 3.1), (3920, 2.7), (3840, 2.3), (3990, 1.95), (3900, 1.65), (3780, 1.4), (3940, 1.2),
             (4060, 4.4), (4200, 3.9), (4120, 3.4), (4020, 3.0), (4180, 2.6), (4090, 2.25), (4240, 1.9), (4150, 1.6), (4040, 1.35), (4220, 1.15),
             (4310, 4.9), (4460, 4.25), (4380, 3.7), (4270, 3.25), (4480, 2.8), (4340, 2.4), (4420, 2.05), (4290, 1.75), (4400, 1.5), (4470, 1.3),
             (4560, 4.6), (4710, 4.0), (4630, 3.5), (4520, 3.05), (4690, 2.65), (4590, 2.3), (4740, 1.95), (4650, 1.65), (4540, 1.4), (4720, 1.2),
             (4800, 4.35), (4960, 3.85), (4870, 3.3), (4770, 2.9), (4930, 2.5), (4840, 2.15), (4980, 1.85), (4900, 1.55), (4780, 1.35), (4950, 1.15),
             (5050, 4.7), (5130, 3.6), (5020, 3.0), (5100, 2.4), (5070, 1.9), (5140, 1.5), (5030, 1.3), (5110, 1.15)]
F_SCATTER_LOW = [(100, 1.6), (250, 1.3), (400, 1.5), (600, 1.2), (750, 1.7), (850, 1.25),
                 (1000, 1.55), (1150, 1.2), (1250, 1.75), (1350, 1.15), (1500, 1.5), (1600, 1.2),
                 (1750, 1.4), (1850, 1.75), (2000, 1.2), (2150, 1.55), (2250, 1.15), (2350, 1.8),
                 (2500, 1.35), (2650, 1.15), (2800, 1.6), (2900, 1.25), (3050, 1.75), (3150, 1.2),
                 (3300, 1.5), (3450, 1.15), (3550, 1.8), (3650, 1.3), (3800, 1.55), (3900, 1.15),
                 (4050, 1.7), (4150, 1.25), (4300, 1.55), (4400, 1.15), (4550, 1.75), (4650, 1.3),
                 (4800, 1.6), (4900, 1.45), (5050, 1.2), (5120, 1.6)]

# ---- SV 29-26 ----
G_BLUE = [0.97, 0.97, 0.96, 0.96, 0.96, 0.96, 0.96, 0.96, 0.96, 0.96,
          0.96, 0.96, 0.96, 0.96, 0.96, 0.96, 0.96, 0.96, 0.96, 0.96,
          0.96, 0.96, 0.96, 0.96, 0.96, 0.96, 0.96, 0.96, 0.96, 0.96,
          0.96, 0.96, 0.96, 0.96, 0.96, 0.96, 0.96, 0.96, 0.96, 0.96,
          0.96, 0.96, 0.96, 0.96, 0.96, 0.96, 0.96, 0.95, 0.95, 0.95,
          0.95, 0.95]
G_BLUE_MID = [0.97, 0.96, 0.96, 0.96, 0.96, 0.96, 0.96, 0.96, 0.96, 0.96,
              0.96, 0.96, 0.96, 0.96, 0.96, 0.96, 0.96, 0.96, 0.96, 0.96,
              0.96, 0.96, 0.96, 0.96, 0.96, 0.96, 0.96, 0.96, 0.96, 0.96,
              0.96, 0.96, 0.96, 0.96, 0.96, 0.96, 0.96, 0.96, 0.96, 0.96,
              0.96, 0.96, 0.96, 0.96, 0.96, 0.96, 0.95, 0.95, 0.95, 0.95,
              0.95, 0.95]
G_TEAL = [0.05, 0.46, 0.51, 0.43, 0.38, 0.42, 0.48, 0.52, 0.44, 0.39,
          0.43, 0.50, 0.46, 0.40, 0.44, 0.49, 0.42, 0.38, 0.43, 0.51,
          0.46, 0.41, 0.45, 0.52, 0.47, 0.40, 0.43, 0.56, 0.48, 0.41,
          0.45, 0.51, 0.46, 0.40, 0.43, 0.49, 0.44, 0.39, 0.45, 0.52,
          0.47, 0.41, 0.44, 0.50, 0.46, 0.40, 0.43, 0.51, 0.66, 0.80,
          0.56, 0.46]
G_TEAL_MID = [0.25, 0.49, 0.47, 0.40, 0.40, 0.45, 0.50, 0.48, 0.41, 0.41,
              0.47, 0.48, 0.43, 0.42, 0.47, 0.46, 0.40, 0.40, 0.47, 0.49,
              0.43, 0.43, 0.49, 0.50, 0.43, 0.41, 0.50, 0.52, 0.44, 0.43,
              0.48, 0.49, 0.43, 0.41, 0.46, 0.47, 0.41, 0.42, 0.49, 0.50,
              0.44, 0.42, 0.47, 0.48, 0.43, 0.41, 0.47, 0.58, 0.75, 0.68,
              0.51, 0.46]
G_TEAL_EXTRA = [(5, 3.25), (5, 3.1), (5, 1.75), (5, 1.62), (10, 1.15), (10, 0.95),
                (15, 0.75), (15, 0.55), (20, 0.35), (25, 0.2), (30, 0.08),
                (2700, 1.0), (2710, 1.3), (2720, 1.55), (2730, 1.62), (2740, 1.5),
                (2760, 1.1), (2780, 0.7), (4930, 0.8)]
G_BAND_1 = [0.60, 0.66, 0.62, 0.56, 0.60, 0.65, 0.68, 0.60, 0.56, 0.62,
            0.67, 0.61, 0.55, 0.60, 0.66, 0.58, 0.55, 0.62, 0.68, 0.63,
            0.57, 0.61, 0.69, 0.64, 0.56, 0.60, 0.90, 0.66, 0.58, 0.62,
            0.68, 0.63, 0.56, 0.60, 0.66, 0.60, 0.55, 0.62, 0.69, 0.64,
            0.57, 0.60, 0.66, 0.62, 0.56, 0.60, 0.66, 0.80, 0.95, 0.72,
            0.62, 0.60]
G_BAND_2 = [0.76, 0.74, 0.80, 0.72, 0.70, 0.78, 0.75, 0.82, 0.72, 0.76,
            0.73, 0.80, 0.71, 0.77, 0.74, 0.79, 0.70, 0.76, 0.82, 0.73,
            0.75, 0.71, 0.80, 0.76, 0.73, 0.70, 0.78, 1.20, 0.80, 0.71,
            0.76, 0.79, 0.73, 0.70, 0.77, 0.75, 0.71, 0.80, 0.74, 0.78,
            0.72, 0.76, 0.70, 0.80, 0.74, 0.72, 0.77, 0.82, 0.90, 0.95,
            0.80, 0.74]
G_BAND_3 = [0.90, 1.05, 0.88, 0.95, 1.10, 0.86, 0.93, 1.15, 0.89, 1.00,
            0.92, 1.08, 0.86, 0.95, 1.20, 0.90, 0.93, 1.05, 0.87, 0.98,
            1.12, 0.89, 0.94, 1.03, 0.88, 1.18, 1.40, 0.98, 0.87, 1.08,
            0.94, 0.88, 1.15, 0.96, 0.90, 1.05, 0.87, 1.00, 1.10, 0.91,
            0.96, 1.07, 0.89, 0.94, 1.16, 0.90, 1.02, 1.06, 1.10, 1.05,
            0.92, 0.90]
G_BAND_4 = [0.62, 0.60, 0.65, 0.58, 0.55, 0.60, 0.63, 0.66, 0.58, 0.56,
            0.59, 0.64, 0.60, 0.56, 0.60, 0.63, 0.57, 0.55, 0.59, 0.65,
            0.60, 0.57, 0.60, 0.66, 0.61, 0.56, 0.59, 0.90, 0.62, 0.57,
            0.60, 0.64, 0.60, 0.56, 0.59, 0.63, 0.59, 0.55, 0.60, 0.65,
            0.61, 0.57, 0.59, 0.64, 0.60, 0.56, 0.59, 0.66, 0.80, 0.90,
            0.68, 0.60]
G_BAND_5 = [0.76, 0.82, 0.78, 0.72, 0.76, 0.81, 0.84, 0.77, 0.72, 0.78,
            0.83, 0.77, 0.71, 0.76, 0.82, 0.75, 0.71, 0.78, 0.84, 0.79,
            0.73, 0.77, 0.85, 0.80, 0.72, 0.76, 1.10, 0.82, 0.74, 0.78,
            0.84, 0.79, 0.72, 0.76, 0.82, 0.76, 0.71, 0.78, 0.85, 0.80,
            0.73, 0.76, 0.82, 0.78, 0.72, 0.76, 0.82, 0.90, 1.00, 0.86,
            0.78, 0.76]
G_SCATTER = [(90, 4.2), (200, 3.7), (40, 3.0), (150, 2.7), (230, 2.2), (70, 1.9), (180, 1.6), (120, 1.4), (30, 1.25), (210, 1.12),
             (330, 4.85), (460, 4.4), (280, 3.6), (400, 3.1), (490, 2.6), (360, 2.3), (440, 1.95), (300, 1.7), (420, 1.45), (380, 1.2),
             (540, 4.95), (690, 4.5), (610, 3.9), (720, 3.3), (570, 2.9), (650, 2.45), (520, 2.1), (740, 1.8), (600, 1.5), (680, 1.3),
             (830, 4.7), (980, 4.05), (770, 3.6), (910, 3.15), (860, 2.75), (950, 2.35), (790, 2.0), (890, 1.75), (990, 1.45), (810, 1.2),
             (1080, 4.9), (1210, 4.3), (1030, 3.75), (1160, 3.35), (1110, 2.95), (1240, 2.5), (1010, 2.15), (1190, 1.85), (1060, 1.55), (1140, 1.3),
             (1290, 4.55), (1420, 3.95), (1360, 3.45), (1480, 3.0), (1260, 2.6), (1400, 2.25), (1330, 1.9), (1470, 1.65), (1310, 1.4), (1440, 1.18),
             (1580, 4.8), (1720, 4.2), (1530, 3.55), (1660, 3.2), (1610, 2.8), (1740, 2.4), (1510, 2.05), (1690, 1.75), (1560, 1.5), (1640, 1.28),
             (1790, 4.45), (1940, 3.85), (1860, 3.5), (1990, 3.05), (1760, 2.65), (1900, 2.3), (1830, 1.95), (1970, 1.7), (1810, 1.42), (1920, 1.2),
             (2080, 4.95), (2210, 4.35), (2030, 3.8), (2160, 3.3), (2110, 2.9), (2240, 2.55), (2010, 2.2), (2190, 1.85), (2060, 1.6), (2130, 1.35),
             (2290, 4.6), (2440, 4.0), (2360, 3.4), (2490, 2.95), (2260, 2.55), (2400, 2.2), (2330, 1.88), (2470, 1.62), (2310, 1.38), (2420, 1.18),
             (2580, 4.75), (2730, 4.25), (2530, 3.65), (2660, 3.2), (2610, 2.8), (2720, 2.4), (2715, 2.15), (2725, 1.9), (2720, 1.75), (2560, 1.55), (2690, 1.3),
             (2800, 4.5), (2940, 3.9), (2860, 3.35), (2990, 2.9), (2770, 2.5), (2900, 2.15), (2830, 1.85), (2970, 1.6), (2810, 1.35), (2920, 1.15),
             (3070, 4.85), (3210, 4.2), (3030, 3.7), (3160, 3.25), (3110, 2.85), (3240, 2.45), (3010, 2.1), (3190, 1.8), (3060, 1.5), (3140, 1.28),
             (3300, 4.4), (3440, 3.9), (3360, 3.45), (3490, 3.0), (3270, 2.6), (3400, 2.3), (3330, 1.95), (3470, 1.7), (3310, 1.45), (3420, 1.2),
             (3580, 4.7), (3720, 4.15), (3530, 3.6), (3660, 3.15), (3610, 2.75), (3740, 2.35), (3510, 2.0), (3690, 1.72), (3560, 1.48), (3640, 1.25),
             (3790, 4.55), (3940, 3.95), (3860, 3.5), (3990, 3.05), (3760, 2.65), (3900, 2.28), (3830, 1.92), (3970, 1.65), (3810, 1.4), (3920, 1.18),
             (4080, 4.9), (4210, 4.3), (4030, 3.75), (4160, 3.3), (4110, 2.9), (4240, 2.5), (4010, 2.12), (4190, 1.82), (4060, 1.55), (4140, 1.3),
             (4290, 4.45), (4440, 3.85), (4360, 3.4), (4490, 2.95), (4260, 2.55), (4400, 2.2), (4330, 1.9), (4470, 1.62), (4310, 1.38), (4420, 1.16),
             (4580, 4.8), (4720, 4.2), (4530, 3.6), (4660, 3.2), (4610, 2.8), (4740, 2.4), (4510, 2.05), (4690, 1.75), (4560, 1.5), (4640, 1.25),
             (4790, 4.65), (4940, 4.05), (4860, 3.55), (4990, 3.1), (4760, 2.7), (4900, 2.3), (4830, 1.95), (4970, 1.68), (4810, 1.42), (4920, 1.2),
             (5060, 4.4), (5140, 3.7), (5020, 3.0), (5110, 2.5), (5080, 2.0), (5130, 1.6), (5040, 1.35), (5100, 1.15)]
G_SCATTER_LOW = [(120, 1.5), (260, 1.2), (420, 1.7), (580, 1.3), (700, 1.15), (860, 1.55),
                 (960, 1.25), (1100, 1.7), (1200, 1.15), (1380, 1.5), (1520, 1.2), (1620, 1.65),
                 (1780, 1.3), (1880, 1.1), (2020, 1.5), (2180, 1.25), (2300, 1.7), (2420, 1.3),
                 (2550, 1.15), (2800, 1.3), (2950, 1.5), (3080, 1.15), (3200, 1.6), (3350, 1.25),
                 (3480, 1.55), (3600, 1.15), (3700, 1.45), (3850, 1.25), (3960, 1.6), (4100, 1.15),
                 (4220, 1.5), (4350, 1.25), (4480, 1.7), (4600, 1.15), (4700, 1.5), (4850, 1.3),
                 (4960, 1.6), (5080, 1.2)]

# ---- SV 29-31 ----
H_BLUE = [0.99, 0.98, 0.98, 0.98, 0.97, 0.97, 0.97, 0.97, 0.97, 0.96,
          0.96, 0.96, 0.96, 0.96, 0.96, 0.96, 0.96, 0.95, 0.95, 0.95,
          0.95, 0.95, 0.95, 0.95, 0.95, 0.95, 0.95, 0.95, 0.95, 0.95,
          0.95, 0.95, 0.95, 0.95, 0.95, 0.95, 0.94, 0.94, 0.94, 0.94,
          0.94, 0.94, 0.94, 0.94, 0.94, 0.94, 0.94, 0.94, 0.94, 0.94,
          0.94, 0.94]
H_BLUE_MID = [0.98, 0.98, 0.98, 0.97, 0.97, 0.97, 0.97, 0.97, 0.96, 0.96,
              0.96, 0.96, 0.96, 0.96, 0.96, 0.96, 0.95, 0.95, 0.95, 0.95,
              0.95, 0.95, 0.95, 0.95, 0.95, 0.95, 0.95, 0.95, 0.95, 0.95,
              0.95, 0.95, 0.95, 0.95, 0.95, 0.94, 0.94, 0.94, 0.94, 0.94,
              0.94, 0.94, 0.94, 0.94, 0.94, 0.94, 0.94, 0.94, 0.94, 0.94,
              0.94, 0.94]
H_TEAL = [0.05, 0.45, 0.55, 0.50, 0.42, 0.48, 0.60, 0.95, 1.35, 0.90,
          0.38, 0.33, 0.36, 0.40, 0.35, 0.42, 0.38, 0.34, 0.40, 0.45,
          0.39, 0.35, 0.41, 0.46, 0.40, 0.36, 0.42, 0.47, 0.41, 0.36,
          0.39, 0.45, 0.40, 0.35, 0.38, 0.44, 0.40, 0.36, 0.41, 0.46,
          0.40, 0.35, 0.39, 0.45, 0.41, 0.36, 0.40, 0.46, 0.42, 0.38,
          0.44, 0.40]
H_TEAL_MID = [0.20, 0.50, 0.52, 0.46, 0.45, 0.54, 0.80, 1.20, 1.20, 0.60,
              0.35, 0.34, 0.38, 0.37, 0.38, 0.40, 0.36, 0.37, 0.42, 0.42,
              0.37, 0.38, 0.43, 0.43, 0.38, 0.39, 0.44, 0.44, 0.38, 0.37,
              0.42, 0.42, 0.37, 0.36, 0.41, 0.42, 0.38, 0.38, 0.43, 0.43,
              0.37, 0.37, 0.42, 0.43, 0.38, 0.38, 0.43, 0.44, 0.40, 0.41,
              0.42, 0.40]
H_TEAL_EXTRA = [(5, 3.6), (5, 3.5), (5, 2.65), (5, 2.3), (5, 1.7), (8, 1.1), (10, 0.9),
                (12, 0.7), (15, 0.5), (20, 0.3), (25, 0.15), (680, 1.1), (730, 1.4),
                (760, 1.42), (790, 1.38), (820, 1.2), (880, 0.75)]
H_BAND_1 = [0.60, 0.70, 0.66, 0.60, 0.62, 0.75, 1.10, 1.45, 1.20, 0.55,
            0.48, 0.52, 0.55, 0.50, 0.56, 0.52, 0.48, 0.54, 0.60, 0.55,
            0.50, 0.56, 0.61, 0.55, 0.50, 0.56, 0.62, 0.56, 0.50, 0.53,
            0.60, 0.55, 0.49, 0.53, 0.58, 0.54, 0.50, 0.56, 0.61, 0.55,
            0.50, 0.54, 0.60, 0.56, 0.50, 0.55, 0.61, 0.57, 0.52, 0.58,
            0.56, 0.52]
H_BAND_2 = [0.78, 0.72, 0.80, 0.74, 0.70, 0.78, 0.85, 1.20, 1.40, 1.10,
            0.66, 0.70, 0.64, 0.72, 0.68, 0.75, 0.65, 0.70, 0.76, 0.67,
            0.72, 0.66, 0.74, 0.70, 0.65, 0.73, 0.68, 0.76, 0.66, 0.71,
            0.69, 0.75, 0.65, 0.70, 0.73, 0.67, 0.71, 0.64, 0.75, 0.69,
            0.66, 0.72, 0.68, 0.76, 0.65, 0.70, 0.74, 0.67, 0.72, 0.69,
            0.74, 0.68]
H_BAND_3 = [0.92, 1.05, 0.88, 0.95, 1.10, 0.90, 1.20, 1.30, 1.25, 0.88,
            0.85, 1.02, 0.84, 0.92, 1.15, 0.86, 0.90, 1.05, 0.83, 0.94,
            1.10, 0.86, 0.91, 1.00, 0.84, 1.15, 0.90, 0.97, 0.85, 1.06,
            0.90, 0.84, 1.12, 0.93, 0.87, 1.02, 0.84, 0.96, 1.08, 0.88,
            0.92, 1.04, 0.86, 0.90, 1.12, 0.87, 0.98, 0.85, 1.00, 0.90,
            0.94, 0.88]
H_BAND_4 = [0.66, 0.60, 0.68, 0.62, 0.56, 0.62, 0.72, 1.05, 1.30, 1.00,
            0.52, 0.50, 0.52, 0.56, 0.50, 0.57, 0.53, 0.50, 0.55, 0.60,
            0.54, 0.50, 0.56, 0.61, 0.55, 0.51, 0.57, 0.62, 0.56, 0.51,
            0.54, 0.60, 0.55, 0.50, 0.53, 0.59, 0.55, 0.51, 0.56, 0.61,
            0.55, 0.50, 0.54, 0.60, 0.56, 0.51, 0.55, 0.61, 0.57, 0.53,
            0.59, 0.55]
H_BAND_5 = [0.75, 0.85, 0.78, 0.74, 0.80, 0.88, 1.20, 1.38, 1.32, 0.72,
            0.66, 0.70, 0.72, 0.68, 0.73, 0.70, 0.66, 0.72, 0.77, 0.72,
            0.68, 0.73, 0.78, 0.72, 0.67, 0.73, 0.79, 0.73, 0.68, 0.70,
            0.77, 0.72, 0.67, 0.70, 0.75, 0.71, 0.67, 0.73, 0.78, 0.72,
            0.67, 0.71, 0.77, 0.73, 0.67, 0.72, 0.78, 0.74, 0.69, 0.75,
            0.73, 0.69]
H_SCATTER = [(60, 4.0), (180, 3.6), (120, 3.1), (30, 2.6), (220, 2.3), (90, 1.95), (160, 1.7), (40, 1.45), (200, 1.3), (110, 1.15),
             (300, 4.55), (430, 4.1), (370, 3.55), (480, 3.2), (260, 2.8), (410, 2.4), (330, 2.05), (460, 1.75), (290, 1.5), (390, 1.25),
             (570, 4.3), (700, 3.85), (630, 3.4), (520, 2.95), (740, 2.6), (600, 2.2), (680, 1.9), (540, 1.65), (660, 1.5), (720, 1.6),
             (790, 4.8), (940, 4.35), (850, 3.9), (990, 3.4), (770, 3.0), (900, 2.6), (820, 2.25), (970, 1.95), (880, 1.65), (920, 1.45),
             (1020, 4.95), (1180, 4.5), (1100, 3.95), (1230, 3.5), (1050, 3.1), (1150, 2.7), (1200, 2.35), (1070, 2.0), (1130, 1.7), (1240, 1.4),
             (1300, 4.6), (1440, 4.05), (1360, 3.6), (1490, 3.15), (1270, 2.75), (1410, 2.4), (1330, 2.05), (1470, 1.78), (1290, 1.5), (1390, 1.25),
             (1560, 4.75), (1700, 4.2), (1620, 3.7), (1520, 3.3), (1740, 2.9), (1590, 2.5), (1670, 2.15), (1530, 1.85), (1720, 1.55), (1640, 1.3),
             (1790, 4.4), (1950, 3.95), (1870, 3.45), (1990, 3.0), (1770, 2.65), (1910, 2.3), (1830, 1.98), (1970, 1.7), (1810, 1.45), (1930, 1.2),
             (2070, 4.85), (2220, 4.3), (2130, 3.8), (2020, 3.35), (2180, 2.95), (2090, 2.55), (2240, 2.2), (2150, 1.9), (2040, 1.6), (2200, 1.35),
             (2300, 4.5), (2460, 4.0), (2380, 3.5), (2270, 3.05), (2490, 2.7), (2340, 2.35), (2420, 2.0), (2280, 1.72), (2400, 1.45), (2450, 1.22),
             (2570, 4.7), (2710, 4.15), (2630, 3.65), (2520, 3.25), (2690, 2.85), (2600, 2.45), (2740, 2.1), (2650, 1.8), (2540, 1.52), (2720, 1.28),
             (2800, 4.35), (2950, 3.85), (2870, 3.4), (2770, 2.95), (2920, 2.6), (2840, 2.25), (2980, 1.95), (2900, 1.66), (2810, 1.42), (2960, 1.2),
             (3060, 4.8), (3200, 4.25), (3130, 3.75), (3020, 3.3), (3180, 2.9), (3090, 2.5), (3240, 2.15), (3150, 1.85), (3040, 1.55), (3220, 1.3),
             (3310, 4.45), (3450, 3.95), (3390, 3.45), (3270, 3.0), (3480, 2.65), (3340, 2.3), (3420, 1.98), (3290, 1.7), (3400, 1.45), (3470, 1.22),
             (3550, 4.9), (3700, 4.3), (3620, 3.8), (3520, 3.35), (3680, 2.9), (3590, 2.5), (3740, 2.15), (3650, 1.82), (3540, 1.52), (3710, 1.28),
             (3800, 4.6), (3960, 4.05), (3870, 3.55), (3770, 3.1), (3920, 2.7), (3840, 2.35), (3990, 2.0), (3900, 1.7), (3780, 1.45), (3940, 1.2),
             (4060, 4.35), (4200, 3.85), (4120, 3.4), (4020, 2.95), (4180, 2.6), (4090, 2.25), (4240, 1.95), (4150, 1.65), (4040, 1.4), (4220, 1.18),
             (4310, 4.75), (4460, 4.2), (4380, 3.7), (4270, 3.25), (4480, 2.85), (4340, 2.45), (4420, 2.1), (4290, 1.8), (4400, 1.52), (4470, 1.28),
             (4560, 4.5), (4710, 3.95), (4630, 3.5), (4520, 3.05), (4690, 2.7), (4590, 2.35), (4740, 2.0), (4650, 1.72), (4540, 1.46), (4720, 1.24),
             (4800, 4.85), (4960, 4.25), (4870, 3.65), (4770, 3.2), (4930, 2.8), (4840, 2.4), (4980, 2.05), (4900, 1.75), (4780, 1.5), (4950, 1.26),
             (5050, 4.6), (5130, 3.8), (5020, 3.1), (5100, 2.55), (5070, 2.05), (5140, 1.65), (5030, 1.4), (5110, 1.2)]
H_SCATTER_LOW = [(150, 1.35), (300, 1.2), (450, 1.55), (600, 1.25), (950, 1.65), (1100, 1.2),
                 (1200, 1.5), (1350, 1.1), (1450, 1.7), (1600, 1.2), (1700, 1.5), (1850, 1.15),
                 (1950, 1.6), (2100, 1.25), (2200, 1.5), (2350, 1.1), (2450, 1.65), (2600, 1.2),
                 (2700, 1.55), (2850, 1.15), (2950, 1.6), (3100, 1.25), (3200, 1.5), (3350, 1.15),
                 (3450, 1.7), (3600, 1.2), (3700, 1.55), (3850, 1.15), (3950, 1.6), (4100, 1.25),
                 (4200, 1.5), (4350, 1.15), (4450, 1.65), (4600, 1.2), (4700, 1.5), (4850, 1.15),
                 (4950, 1.6), (5100, 1.3)]

BLUE = "#3d5fc0"
TEAL = "#2cc79e"
ORANGE = "#fbb24f"


def pairs_frame(pairs):
    return pd.DataFrame(pairs, columns=["epoch", "std"])


def grid_frame(epochs, values):
    return pd.DataFrame({"epoch": epochs, "std": values})


def dense_panel(blue, blue_mid, teal, teal_mid, teal_extra, bands_100, bands_mid, scatters):
    blue_df = pd.concat([grid_frame(EPOCHS_100, blue), grid_frame(EPOCHS_MID, blue_mid)])
    teal_df = pd.concat([grid_frame(EPOCHS_100, teal), grid_frame(EPOCHS_MID, teal_mid),
                         pairs_frame(teal_extra)])
    parts = [grid_frame(EPOCHS_100, b) for b in bands_100]
    parts += [grid_frame(EPOCHS_MID, b) for b in bands_mid]
    parts += [pairs_frame(s) for s in scatters]
    return blue_df, teal_df, pd.concat(parts)


panels = [
    (pairs_frame(A_BLUE), pairs_frame(A_TEAL), pairs_frame(A_ORANGE)),
    (pairs_frame(B_BLUE), pairs_frame(B_TEAL), pairs_frame(B_ORANGE)),
    (pd.concat([grid_frame(C_BLUE_X, C_BLUE_Y), grid_frame(C_BLUE2_X, C_BLUE2_Y)]),
     pairs_frame(C_TEAL), pairs_frame(C_ORANGE)),
    dense_panel(D_BLUE, D_BLUE_MID, D_TEAL, D_TEAL_MID, D_TEAL_EXTRA,
                [D_BAND_2, D_BAND_4], [D_BAND_1, D_BAND_3, D_BAND_5],
                [D_SCATTER, D_SCATTER_LOW]),
    (pd.concat([grid_frame(E_BLUE_X, E_BLUE_Y), grid_frame(E_BLUE2_X, E_BLUE2_Y)]),
     pairs_frame(E_TEAL), pairs_frame(E_ORANGE)),
    dense_panel(F_BLUE, F_BLUE_MID, F_TEAL, F_TEAL_MID, F_TEAL_EXTRA,
                [F_BAND_2, F_BAND_4], [F_BAND_1, F_BAND_3, F_BAND_5],
                [F_SCATTER, F_SCATTER_LOW]),
    dense_panel(G_BLUE, G_BLUE_MID, G_TEAL, G_TEAL_MID, G_TEAL_EXTRA,
                [G_BAND_2, G_BAND_4], [G_BAND_1, G_BAND_3, G_BAND_5],
                [G_SCATTER, G_SCATTER_LOW]),
    dense_panel(H_BLUE, H_BLUE_MID, H_TEAL, H_TEAL_MID, H_TEAL_EXTRA,
                [H_BAND_2, H_BAND_4], [H_BAND_1, H_BAND_3, H_BAND_5],
                [H_SCATTER, H_SCATTER_LOW]),
]

sns.set_style("white")
plt.rcParams["font.family"] = ["Liberation Sans", "DejaVu Sans"]
plt.rcParams["mathtext.fontset"] = "cm"

W, H = 981, 551
LEFTS = [62, 299, 535, 773]
ROWS = [(81, 261), (307, 491)]

fig = plt.figure(figsize=(W / 100, H / 100), dpi=100)

for i, (blue_df, teal_df, orange_df) in enumerate(panels):
    r, c = divmod(i, 4)
    top, bottom = ROWS[r]
    ax = fig.add_axes([LEFTS[c] / W, 1 - bottom / H, 194 / W, (bottom - top) / H])

    sns.scatterplot(data=blue_df, x="epoch", y="std", ax=ax, marker="o", s=19,
                    facecolor="none", edgecolor=BLUE, linewidth=1.3,
                    legend=False, clip_on=False, zorder=2)
    sns.scatterplot(data=teal_df, x="epoch", y="std", ax=ax, marker="o", s=17,
                    facecolor="none", edgecolor=TEAL, linewidth=1.0,
                    legend=False, clip_on=False, zorder=3)
    # the IGGIII series also covers every point of the R-hat series
    orange_all = pd.concat([teal_df, orange_df])
    sns.scatterplot(data=orange_all, x="epoch", y="std", ax=ax, marker="o", s=8,
                    color=ORANGE, edgecolor="none", linewidth=0,
                    legend=False, clip_on=False, zorder=4)

    ax.set_xlim(0, 5150)
    ax.set_ylim(0, 5)
    ax.set_xticks(X_TICKS)
    ax.set_yticks(Y_TICKS)
    ax.tick_params(direction="in", length=3, width=0.6, top=True, right=True,
                   color="#555555", labelcolor="#262626", labelsize=14,
                   labelbottom=(r == 1), labelleft=(c == 0))
    ax.tick_params(axis="x", pad=8)
    ax.tick_params(axis="y", pad=5)
    for sp in ax.spines.values():
        sp.set_color("#666666")
        sp.set_linewidth(0.8)
    ax.set_title(TITLES[i], fontsize=13.3, fontweight="bold", pad=5)
    ax.set_xlabel("Epoch" if r == 1 else "", fontsize=15, fontweight="bold", labelpad=4)
    ax.set_ylabel("STD [m]" if c == 0 else "", fontsize=15.5, fontweight="bold", labelpad=6)

handles = [
    Line2D([], [], ls="none", marker="o", ms=4, mfc="none", mec=BLUE, mew=1.0),
    Line2D([], [], ls="none", marker="o", ms=4, mfc="none", mec=TEAL, mew=1.0),
    Line2D([], [], ls="none", marker="o", ms=2.2, mfc=ORANGE, mec="none"),
]
leg = fig.legend(handles, LEGEND_LABELS, loc="upper center",
                 bbox_to_anchor=(512 / W, 1 - 2 / H), ncol=3, frameon=True,
                 fancybox=False, edgecolor="#333333", framealpha=1,
                 prop={"family": "cmr10", "size": 18}, handlelength=1.4,
                 handletextpad=0.05, columnspacing=0.2, borderpad=0.12,
                 borderaxespad=0)
leg.get_frame().set_linewidth(0.8)

fig.savefig("out.png", dpi=100)
